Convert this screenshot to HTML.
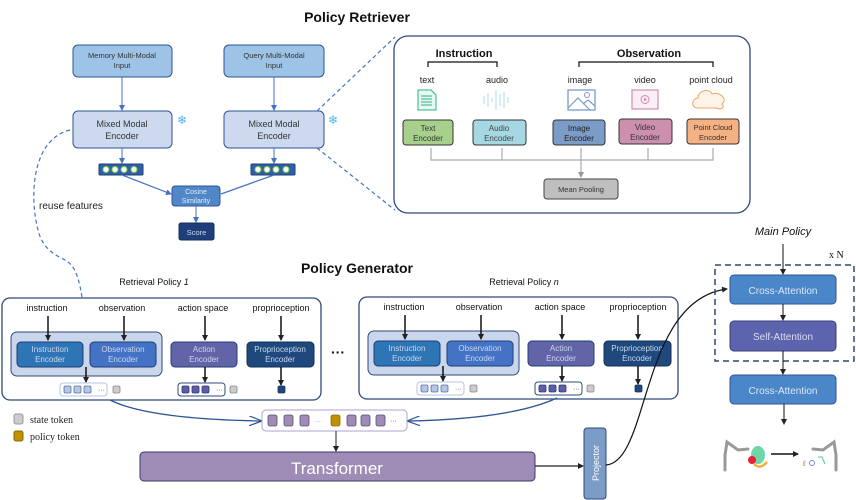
<!DOCTYPE html>
<html><head><meta charset="utf-8"><style>
html,body{margin:0;padding:0;background:#fff}
svg{display:block}
text{font-family:"Liberation Sans",sans-serif}
</style></head><body>
<svg width="856" height="500" viewBox="0 0 856 500" xmlns="http://www.w3.org/2000/svg">
<defs>
<marker id="ab" markerWidth="6" markerHeight="6" refX="5" refY="3" orient="auto" markerUnits="userSpaceOnUse"><path d="M0,0 L6,3 L0,6 z" fill="#222"/></marker>
<marker id="abl" markerWidth="6" markerHeight="6" refX="5" refY="3" orient="auto" markerUnits="userSpaceOnUse"><path d="M0,0 L6,3 L0,6 z" fill="#4472c4"/></marker>
<marker id="ag" markerWidth="6" markerHeight="6" refX="5" refY="3" orient="auto" markerUnits="userSpaceOnUse"><path d="M0,0 L6,3 L0,6 z" fill="#999"/></marker>
<marker id="aopen" markerWidth="14" markerHeight="10" refX="13" refY="5" orient="auto" markerUnits="userSpaceOnUse"><path d="M0,0 L13,5 L0,10" fill="none" stroke="#2f5597" stroke-width="1.2"/></marker>
</defs>

<!-- Titles -->
<text x="357" y="22" font-size="14" font-weight="bold" text-anchor="middle" fill="#111">Policy Retriever</text>
<text x="357" y="273" font-size="14" font-weight="bold" text-anchor="middle" fill="#111">Policy Generator</text>

<!-- Retriever left -->
<rect x="73" y="45" width="99" height="32" rx="5" fill="#9dc3e6" stroke="#2f5597"/>
<text x="122" y="58" font-size="7.5" text-anchor="middle" fill="#333">Memory Multi-Modal</text>
<text x="122" y="68" font-size="7.5" text-anchor="middle" fill="#333">Input</text>
<rect x="224" y="45" width="100" height="32" rx="5" fill="#9dc3e6" stroke="#2f5597"/>
<text x="274" y="58" font-size="7.5" text-anchor="middle" fill="#333">Query Multi-Modal</text>
<text x="274" y="68" font-size="7.5" text-anchor="middle" fill="#333">Input</text>
<line x1="122" y1="77" x2="122" y2="110" stroke="#4472c4" marker-end="url(#abl)"/>
<line x1="274" y1="77" x2="274" y2="110" stroke="#4472c4" marker-end="url(#abl)"/>
<rect x="73" y="111" width="99" height="37" rx="5" fill="#cdd9ee" stroke="#2f5597"/>
<text x="122" y="127" font-size="9" text-anchor="middle" fill="#333">Mixed Modal</text>
<text x="122" y="139" font-size="9" text-anchor="middle" fill="#333">Encoder</text>
<rect x="224" y="111" width="100" height="37" rx="5" fill="#cdd9ee" stroke="#2f5597"/>
<text x="274" y="127" font-size="9" text-anchor="middle" fill="#333">Mixed Modal</text>
<text x="274" y="139" font-size="9" text-anchor="middle" fill="#333">Encoder</text>
<text x="182" y="124" font-size="12" text-anchor="middle" fill="#4fb3e8">❄</text>
<text x="333" y="124" font-size="12" text-anchor="middle" fill="#4fb3e8">❄</text>
<line x1="122" y1="148" x2="122" y2="163" stroke="#4472c4" marker-end="url(#abl)"/>
<line x1="274" y1="148" x2="274" y2="163" stroke="#4472c4" marker-end="url(#abl)"/>
<rect x="99" y="164" width="44" height="11" rx="1" fill="#2f5fa8" stroke="#1f3f7a"/>
<g fill="#fff" stroke="#7fcf3f" stroke-width="1"><circle cx="106" cy="169.5" r="3"/><circle cx="115" cy="169.5" r="3"/><circle cx="124" cy="169.5" r="3"/><circle cx="134" cy="169.5" r="3"/></g>
<rect x="251" y="164" width="44" height="11" rx="1" fill="#2f5fa8" stroke="#1f3f7a"/>
<g fill="#fff" stroke="#7fcf3f" stroke-width="1"><circle cx="258" cy="169.5" r="3"/><circle cx="267" cy="169.5" r="3"/><circle cx="276" cy="169.5" r="3"/><circle cx="286" cy="169.5" r="3"/></g>
<line x1="122" y1="175" x2="171" y2="194" stroke="#4472c4" stroke-width="1.2" marker-end="url(#abl)"/>
<line x1="274" y1="175" x2="221" y2="194" stroke="#4472c4" stroke-width="1.2"/>
<rect x="172" y="186" width="48" height="20" rx="3" fill="#4f87c9" stroke="#2f5597"/>
<text x="196" y="194" font-size="7" text-anchor="middle" fill="#e6eefa">Cosine</text>
<text x="196" y="203" font-size="7" text-anchor="middle" fill="#e6eefa">Similarity</text>
<line x1="196" y1="206" x2="196" y2="222" stroke="#4472c4" marker-end="url(#abl)"/>
<rect x="179" y="223" width="35" height="17" rx="2" fill="#1f3f7a" stroke="#172e5a"/>
<text x="196.5" y="235" font-size="7.5" text-anchor="middle" fill="#cfd9ee">Score</text>
<text x="39" y="209" font-size="10" fill="#222">reuse features</text>
<path d="M70,130 C30,140 30,200 38,230 C44,255 65,258 68,262 C80,270 83,300 86,332" fill="none" stroke="#4472c4" stroke-width="1.2" stroke-dasharray="4,3" marker-end="url(#abl)"/>

<!-- dashed zoom lines -->
<line x1="317" y1="111" x2="395" y2="37" stroke="#4472c4" stroke-width="1.2" stroke-dasharray="4,3"/>
<line x1="317" y1="148" x2="395" y2="210" stroke="#4472c4" stroke-width="1.2" stroke-dasharray="4,3"/>

<!-- Inset -->
<rect x="394" y="36" width="356" height="177" rx="14" fill="#fff" stroke="#2f4a7a" stroke-width="1.3"/>
<text x="464" y="57" font-size="11" font-weight="bold" text-anchor="middle" fill="#111">Instruction</text>
<text x="649" y="57" font-size="11" font-weight="bold" text-anchor="middle" fill="#111">Observation</text>
<path d="M428,67 V62 H497 V67" fill="none" stroke="#111" stroke-width="1.2"/>
<path d="M579,67 V62 H713 V67" fill="none" stroke="#111" stroke-width="1.2"/>
<g font-size="9" text-anchor="middle" fill="#222">
<text x="427" y="83">text</text><text x="497" y="83">audio</text><text x="580" y="83">image</text><text x="645" y="83">video</text><text x="711" y="83">point cloud</text></g>
<!-- icons -->
<path d="M418,90 H431 L436,95 V110 H418 Z" fill="#e8f7f1" stroke="#2bb38a" stroke-width="1"/>
<g stroke="#2bb38a" stroke-width="1"><line x1="421" y1="96" x2="432" y2="96"/><line x1="421" y1="99" x2="432" y2="99"/><line x1="421" y1="102" x2="432" y2="102"/><line x1="421" y1="105" x2="432" y2="105"/></g>
<g stroke="#a9dce6" stroke-width="1"><line x1="484" y1="96" x2="484" y2="104"/><line x1="488" y1="93" x2="488" y2="107"/><line x1="492" y1="98" x2="492" y2="102"/><line x1="496" y1="90" x2="496" y2="110"/><line x1="500" y1="94" x2="500" y2="106"/><line x1="504" y1="92" x2="504" y2="108"/><line x1="508" y1="97" x2="508" y2="103"/></g>
<rect x="568" y="90" width="27" height="20" fill="none" stroke="#7a9cc6" stroke-width="1.3"/>
<path d="M568,108 L578,98 L590,110 M583,104 L588,100 L595,106" fill="none" stroke="#7a9cc6" stroke-width="1.2"/><circle cx="587" cy="95" r="2.5" fill="none" stroke="#7a9cc6"/>
<rect x="632" y="90" width="26" height="19" fill="#fbeef4" stroke="#cc8fae" stroke-width="1.2"/>
<circle cx="645" cy="99.5" r="4" fill="none" stroke="#cc8fae"/><path d="M644,97.5 L647,99.5 L644,101.5z" fill="#cc8fae"/>
<path d="M698,108 C690,108 692,98 698,98 C698,90 710,88 712,94 C720,91 728,99 722,104 C726,108 720,110 716,108 Z" fill="#fff4ea" stroke="#f4a460" stroke-width="1"/>
<!-- encoders -->
<g font-size="8" text-anchor="middle">
<rect x="403" y="120" width="50" height="25" rx="3" fill="#a8d08d" stroke="#333"/><text x="428" y="131" fill="#333">Text</text><text x="428" y="141" fill="#333">Encoder</text>
<rect x="473" y="120" width="53" height="25" rx="3" fill="#a5d8e3" stroke="#333"/><text x="499" y="131" fill="#444">Audio</text><text x="499" y="141" fill="#444">Encoder</text>
<rect x="553" y="120" width="52" height="25" rx="3" fill="#7a9cc6" stroke="#333"/><text x="579" y="131" fill="#222">Image</text><text x="579" y="141" fill="#222">Encoder</text>
<rect x="619" y="119" width="53" height="25" rx="3" fill="#cc8fae" stroke="#333"/><text x="645" y="130" fill="#333">Video</text><text x="645" y="140" fill="#333">Encoder</text>
<rect x="687" y="119" width="52" height="25" rx="3" fill="#f4b183" stroke="#333"/><text x="713" y="130" fill="#333" font-size="7.5">Point Cloud</text><text x="713" y="140" fill="#333" font-size="7.5">Encoder</text>
</g>
<g stroke="#aaa" stroke-width="1.2" fill="none"><path d="M431,148 V160 H713 V148"/><line x1="502" y1="148" x2="502" y2="160"/><line x1="648" y1="148" x2="648" y2="160"/></g>
<line x1="581" y1="148" x2="581" y2="177" stroke="#aaa" stroke-width="1.2" marker-end="url(#ag)"/>
<rect x="544" y="179" width="74" height="20" rx="3" fill="#bfbfbf" stroke="#444"/>
<text x="581" y="192" font-size="7.5" text-anchor="middle" fill="#333">Mean Pooling</text>

<!-- Retrieval policies -->
<text x="154" y="285" font-size="9" text-anchor="middle" fill="#111">Retrieval Policy <tspan font-style="italic">1</tspan></text>
<text x="524" y="285" font-size="9" text-anchor="middle" fill="#111">Retrieval Policy <tspan font-style="italic">n</tspan></text>
<g id="rp">
<rect x="2" y="298" width="319" height="102" rx="8" fill="#fff" stroke="#2f4a7a" stroke-width="1.3"/>
<g font-size="9" text-anchor="middle" fill="#111"><text x="47" y="311">instruction</text><text x="122" y="311">observation</text><text x="203" y="311">action space</text><text x="281" y="311">proprioception</text></g>
<rect x="11" y="332" width="151" height="44" rx="6" fill="#c9d6ec" stroke="#2f4a7a"/>
<g stroke="#111" stroke-width="1.5"><line x1="48" y1="316" x2="48" y2="340" marker-end="url(#ab)"/><line x1="124" y1="316" x2="124" y2="340" marker-end="url(#ab)"/><line x1="205" y1="316" x2="205" y2="340" marker-end="url(#ab)"/><line x1="281" y1="316" x2="281" y2="340" marker-end="url(#ab)"/></g>
<g font-size="8" text-anchor="middle" fill="#c8d8f0">
<rect x="17" y="342" width="66" height="25" rx="4" fill="#2e75b6" stroke="#1f3f7a"/><text x="50" y="352">Instruction</text><text x="50" y="362">Encoder</text>
<rect x="90" y="342" width="66" height="25" rx="4" fill="#4472c4" stroke="#1f3f7a"/><text x="123" y="352">Observation</text><text x="123" y="362">Encoder</text>
<rect x="171" y="342" width="66" height="25" rx="4" fill="#6264a7" stroke="#1f3f7a"/><text x="204" y="352">Action</text><text x="204" y="362">Encoder</text>
<rect x="247" y="342" width="67" height="25" rx="4" fill="#1f497d" stroke="#14305a"/><text x="280" y="352">Proprioception</text><text x="280" y="362">Encoder</text></g>
<g stroke="#111" stroke-width="1.5"><line x1="86" y1="367" x2="86" y2="382" marker-end="url(#ab)"/><line x1="205" y1="367" x2="205" y2="382" marker-end="url(#ab)"/><line x1="281" y1="367" x2="281" y2="385" marker-end="url(#ab)"/></g>
<rect x="60" y="383" width="47" height="13" rx="3" fill="#fff" stroke="#b4c4e4"/>
<g fill="#b4c7e7" stroke="#5a6f9a" stroke-width="0.8"><rect x="64" y="386" width="7" height="7" rx="1.5"/><rect x="74" y="386" width="7" height="7" rx="1.5"/><rect x="84" y="386" width="7" height="7" rx="1.5"/></g>
<text x="98" y="392" font-size="7" fill="#555">···</text>
<rect x="113" y="386" width="7" height="7" rx="1.5" fill="#ccc" stroke="#888" stroke-width="0.8"/>
<rect x="178" y="383" width="47" height="13" rx="3" fill="#fff" stroke="#2f4a7a"/>
<g fill="#5b5fa8" stroke="#2f3470" stroke-width="0.8"><rect x="182" y="386" width="7" height="7" rx="1.5"/><rect x="192" y="386" width="7" height="7" rx="1.5"/><rect x="202" y="386" width="7" height="7" rx="1.5"/></g>
<text x="216" y="392" font-size="7" fill="#333">···</text>
<rect x="230" y="386" width="7" height="7" rx="1.5" fill="#ccc" stroke="#888" stroke-width="0.8"/>
<rect x="278" y="386" width="7" height="7" rx="1.5" fill="#1f497d" stroke="#14305a" stroke-width="0.8"/>
</g>
<use href="#rp" x="357" y="-1"/>
<text x="338" y="357" font-size="14" font-weight="bold" text-anchor="middle" fill="#111">···</text>

<!-- legend -->
<rect x="14" y="414" width="9" height="10" rx="2" fill="#ccc" stroke="#999"/>
<text x="30" y="423" font-size="10" font-family="Liberation Serif" style="font-family:'Liberation Serif',serif" fill="#222">state token</text>
<rect x="14" y="431" width="9" height="10" rx="2" fill="#c09000" stroke="#8a6a00"/>
<text x="30" y="440" font-size="10" style="font-family:'Liberation Serif',serif" fill="#222">policy token</text>

<!-- curves to token seq -->
<path d="M110,400 C140,415 200,420 262,421" fill="none" stroke="#2f5597" stroke-width="1.3" marker-end="url(#aopen)"/>
<path d="M557,398 C520,415 460,420 407,421" fill="none" stroke="#2f5597" stroke-width="1.3" marker-end="url(#aopen)"/>
<rect x="262" y="410" width="145" height="21" rx="4" fill="#fff" stroke="#b0a0cc"/>
<g fill="#9e8bb6" stroke="#5a4a7a" stroke-width="0.8">
<rect x="268" y="415" width="9" height="11" rx="2"/><rect x="284" y="415" width="9" height="11" rx="2"/><rect x="300" y="415" width="9" height="11" rx="2"/>
<rect x="347" y="415" width="9" height="11" rx="2"/><rect x="361" y="415" width="9" height="11" rx="2"/><rect x="376" y="415" width="9" height="11" rx="2"/></g>
<rect x="331" y="415" width="9" height="11" rx="2" fill="#c09000" stroke="#8a6a00" stroke-width="0.8"/>
<text x="315" y="423" font-size="6" fill="#777">···</text><text x="390" y="423" font-size="7" fill="#333">···</text>
<line x1="336" y1="431" x2="336" y2="451" stroke="#222" marker-end="url(#ab)"/>
<rect x="140" y="452" width="395" height="29" rx="4" fill="#9e8bb6" stroke="#3a3a6a"/>
<text x="337" y="474" font-size="17" text-anchor="middle" fill="#fff">Transformer</text>
<line x1="535" y1="466" x2="583" y2="466" stroke="#222" stroke-width="1.2" marker-end="url(#ab)"/>
<rect x="584" y="428" width="22" height="71" rx="3" fill="#7a9cc6" stroke="#2f4a7a"/>
<text transform="translate(599,463) rotate(-90)" font-size="9" text-anchor="middle" fill="#fff">Projector</text>
<path d="M606,465 C650,462 640,300 727,289" fill="none" stroke="#111" stroke-width="1.2" marker-end="url(#ab)"/>

<!-- Main policy -->
<text x="783" y="235" font-size="11" font-style="italic" text-anchor="middle" fill="#111">Main Policy</text>
<text x="829" y="258" font-size="10" style="font-family:'Liberation Serif',serif" fill="#111">x N</text>
<rect x="715" y="265" width="139" height="96" fill="none" stroke="#2f4a6a" stroke-width="1.5" stroke-dasharray="6,4"/>
<line x1="783" y1="244" x2="783" y2="274" stroke="#111" marker-end="url(#ab)"/>
<rect x="730" y="275" width="106" height="29" rx="4" fill="#4a86c8" stroke="#2f5597"/>
<text x="783" y="294" font-size="10" text-anchor="middle" fill="#dce8f6">Cross-Attention</text>
<line x1="783" y1="304" x2="783" y2="320" stroke="#111" marker-end="url(#ab)"/>
<rect x="730" y="321" width="106" height="30" rx="4" fill="#5b64ad" stroke="#3a3f7a"/>
<text x="783" y="340" font-size="10" text-anchor="middle" fill="#dcdcf0">Self-Attention</text>
<line x1="783" y1="351" x2="783" y2="374" stroke="#111" marker-end="url(#ab)"/>
<rect x="730" y="375" width="106" height="29" rx="4" fill="#4a86c8" stroke="#2f5597"/>
<text x="783" y="394" font-size="10" text-anchor="middle" fill="#dce8f6">Cross-Attention</text>
<line x1="784" y1="404" x2="784" y2="424" stroke="#111" marker-end="url(#ab)"/>
<!-- robots -->
<g stroke="#999" stroke-width="3" fill="none" stroke-linecap="round">
<path d="M725,470 V455 L727,442 L738,450 L748,449"/>
<path d="M836,470 V455 L834,442 L823,450 L813,449"/></g>
<ellipse cx="758" cy="455" rx="7" ry="9" fill="#6fd6a8"/>
<circle cx="752" cy="460" r="4" fill="#e8203a"/>
<path d="M754,464 Q760,470 767,462" stroke="#f5b041" stroke-width="2.5" fill="none"/>
<line x1="771" y1="454" x2="798" y2="454" stroke="#111" stroke-width="1.5" marker-end="url(#ab)"/>
<text x="803" y="466" font-size="8" fill="#d9534f">ℓ</text><circle cx="812" cy="463" r="2.5" fill="none" stroke="#7a8ad0"/><path d="M818,457 L822,457 L825,464" stroke="#4cc9a0" fill="none"/>
</svg>
</body></html>
